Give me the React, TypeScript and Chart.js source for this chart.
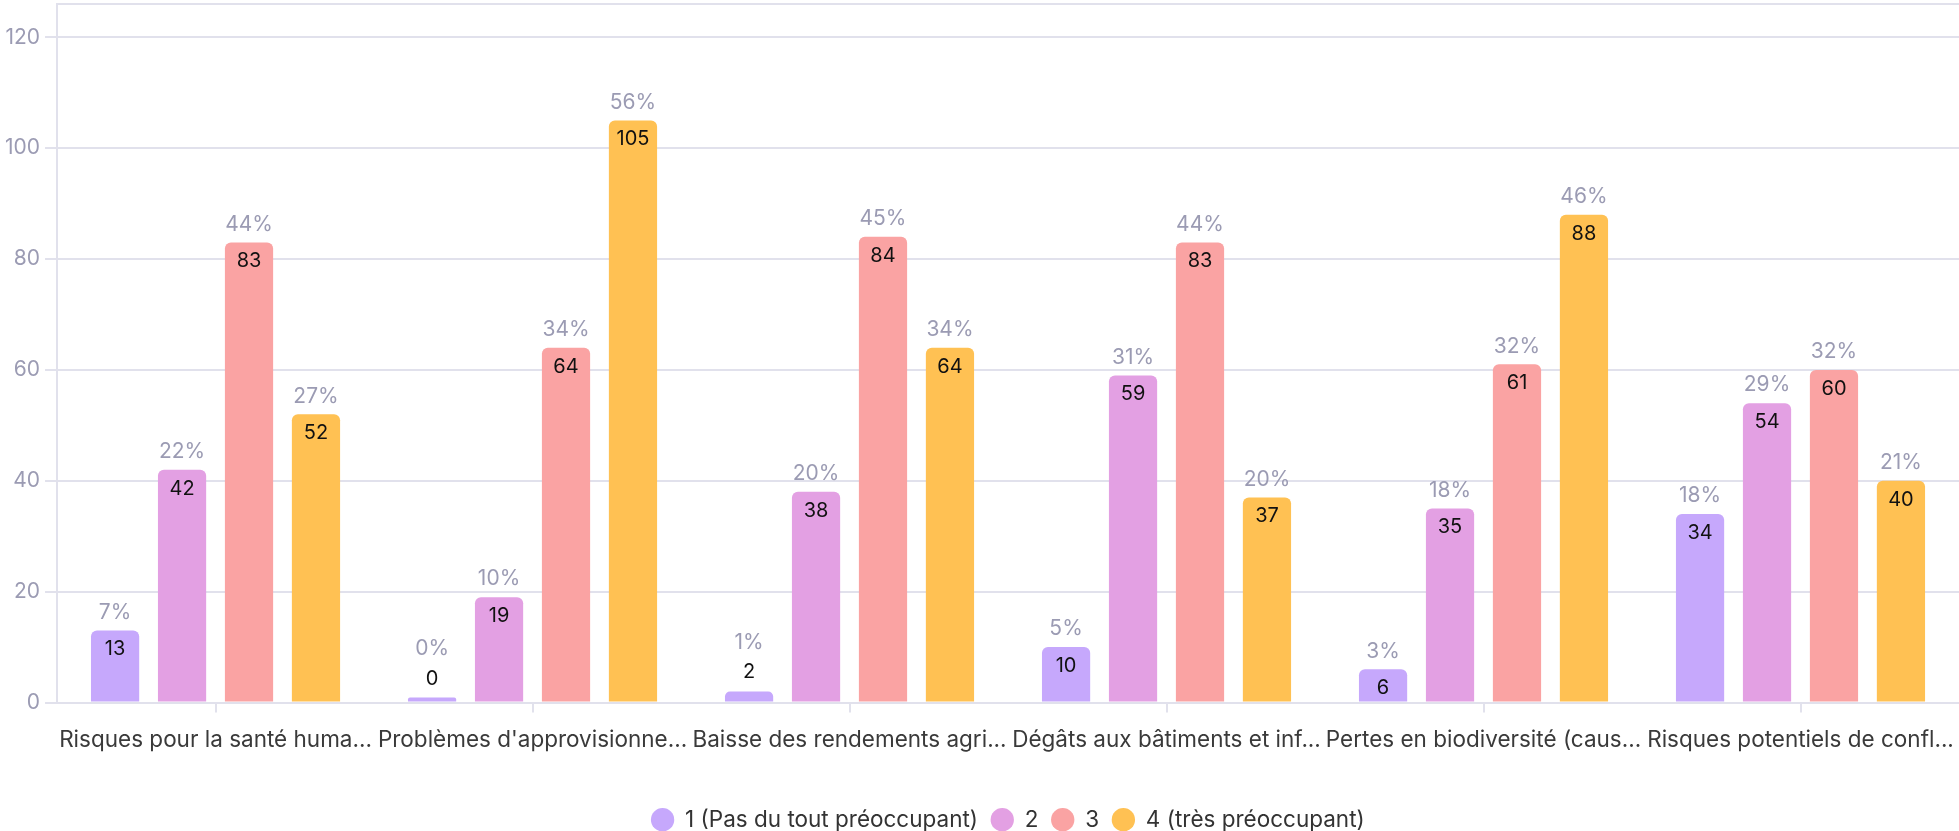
import React, { useEffect, useRef } from "react";
import { Chart, registerables } from "chart.js";

Chart.register(...registerables);

const categories = [
  "Risques pour la santé huma...",
  "Problèmes d'approvisionne...",
  "Baisse des rendements agri...",
  "Dégâts aux bâtiments et inf...",
  "Pertes en biodiversité (caus...",
  "Risques potentiels de confl...",
];
const seriesNames = ["1 (Pas du tout préoccupant)", "2", "3", "4 (très préoccupant)"];
const s1 = [13, 0, 2, 10, 6, 34];
const s2 = [42, 19, 38, 59, 35, 54];
const s3 = [83, 64, 84, 83, 61, 60];
const s4 = [52, 105, 64, 37, 88, 40];
const colors = ["#c6a8fc", "#e3a0e3", "#faa3a3", "#ffc153"];

const FONT = "Inter, 'Noto Sans', sans-serif";

const labelPlugin = {
  id: "barLabels",
  afterDatasetsDraw(chart: any) {
    const ctx = chart.ctx;
    const all = chart.data.datasets.map((d: any) => d.data as number[]);
    ctx.save();
    ctx.textAlign = "center";
    ctx.textBaseline = "middle";
    chart.data.datasets.forEach((ds: any, di: number) => {
      const meta = chart.getDatasetMeta(di);
      meta.data.forEach((bar: any, i: number) => {
        const v = ds.data[i] as number;
        const total = all.reduce((s: number, arr: number[]) => s + arr[i], 0);
        const pct = Math.round((v / total) * 100) + "%";
        const top = bar.y;
        const h = bar.base - bar.y;
        const inside = h >= 28;
        ctx.font = "20px " + FONT;
        ctx.fillStyle = "#111111";
        const vy = inside ? top + 19 : top - 19;
        ctx.fillText(String(v), bar.x, vy);
        ctx.font = "21px " + FONT;
        ctx.fillStyle = "#9b9bb3";
        const py = inside ? top - 18 : top - 49;
        ctx.fillText(pct, bar.x, py);
      });
    });
    ctx.restore();
  },
};

const topLinePlugin = {
  id: "topLine",
  beforeDatasetsDraw(chart: any) {
    const { ctx, chartArea } = chart;
    ctx.save();
    ctx.strokeStyle = "#e1e1ec";
    ctx.lineWidth = 2;
    ctx.beginPath();
    ctx.moveTo(chartArea.left, chartArea.top);
    ctx.lineTo(chartArea.right, chartArea.top);
    ctx.stroke();
    ctx.restore();
  },
};

export default function App() {
  const ref = useRef<HTMLCanvasElement | null>(null);
  useEffect(() => {
    if (!ref.current) return;
    const series = [s1, s2, s3, s4];
    const chart = new Chart(ref.current, {
      type: "bar",
      data: {
        labels: categories,
        datasets: series.map((d, k) => ({
          label: seriesNames[k],
          data: d,
          backgroundColor: colors[k],
          borderRadius: 6,
          borderSkipped: "start",
          minBarLength: 5,
          categoryPercentage: 0.845,
          barPercentage: 0.72,
        })),
      },
      options: {
        responsive: false,
        animation: false,
        layout: { padding: { top: 4, left: 0, right: 0, bottom: -10 } },
        plugins: {
          tooltip: { enabled: false },
          legend: {
            position: "bottom",
            fullSize: false,
            labels: {
              usePointStyle: true,
              pointStyle: "circle",
              boxHeight: 16.5,
              boxWidth: 26,
              padding: 13,
              color: "#333333",
              font: { size: 22.5, family: FONT },
            },
          },
        },
        scales: {
          x: {
            grid: {
              display: true,
              drawOnChartArea: false,
              drawTicks: true,
              tickLength: 10,
              offset: false,
              color: "#e1e1ec",
              lineWidth: 2,
            },
            border: { display: false },
            ticks: {
              autoSkip: false,
              maxRotation: 0,
              minRotation: 0,
              padding: 14,
              color: "#3a3a3a",
              font: { size: 22.5, family: FONT },
            },
            afterFit: (scale: any) => {
              scale.height += 28;
              scale.paddingLeft = 0;
              scale.paddingRight = 0;
            },
          },
          y: {
            min: 0,
            max: 126,
            grid: { color: "#e1e1ec", lineWidth: 2, tickLength: 12 },
            border: { color: "#e1e1ec", width: 2 },
            ticks: {
              stepSize: 20,
              includeBounds: false,
              padding: 5,
              color: "#9b9bb3",
              font: { size: 21, family: FONT },
            },
            afterFit: (scale: any) => {
              scale.paddingTop = 0;
              scale.paddingBottom = 0;
            },
          },
        },
      },
      plugins: [topLinePlugin, labelPlugin],
    } as any);
    return () => chart.destroy();
  }, []);
  return (
    <div style={{ position: "absolute", left: 0, top: 0, width: 1959, height: 831, background: "#fff" }}>
      <canvas ref={ref} width={1959} height={831} style={{ display: "block", width: 1959, height: 831 }} />
    </div>
  );
}
